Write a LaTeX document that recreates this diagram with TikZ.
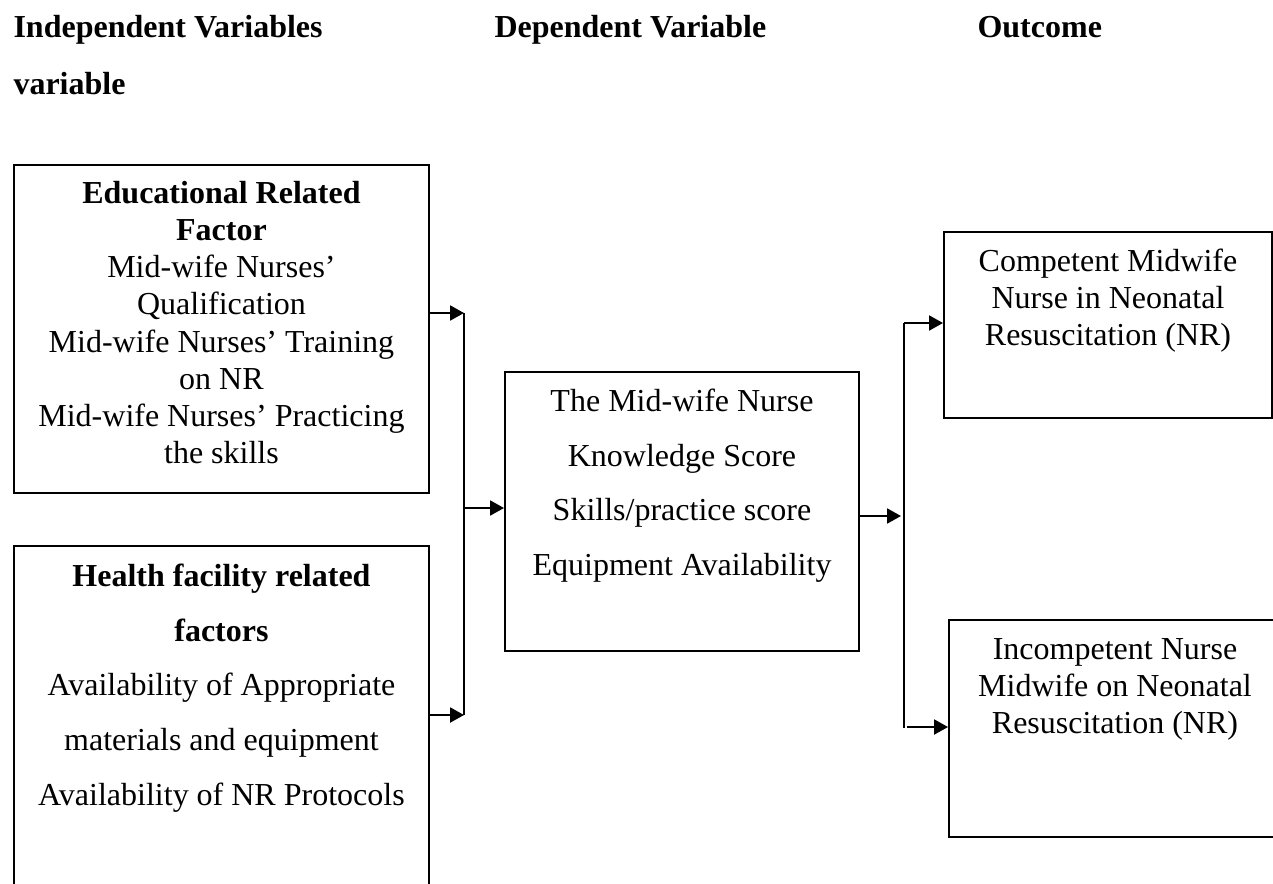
\documentclass[tikz,border=0pt]{standalone}
\usepackage{fontspec}
\setmainfont{Liberation Serif}
\usetikzlibrary{arrows.meta}
\begin{document}
\begin{tikzpicture}[x=0.375pt,y=-0.375pt,
 box/.style={draw, line width=0.75pt, inner sep=0, anchor=north west},
 txt/.style={inner sep=0, align=center, anchor=north, font=\fontsize{12}{13.9}\selectfont},
 txtw/.style={inner sep=0, align=center, anchor=north, font=\fontsize{12}{20.6}\selectfont},
 head/.style={inner sep=0, anchor=base west, font=\fontsize{12}{14}\selectfont\bfseries},
 arr/.style={line width=0.75pt, -{Triangle[length=5.2pt,width=5.6pt]}},
 ln/.style={line width=0.75pt}]
\useasboundingbox (0,0) rectangle (1273,883);
\clip (0,0) rectangle (1273,883);

% headings
\node[head] (h1) at (13,37) {Independent Variables};
\node[head] (h1b) at (13,94) {variable};
\node[head] (h2) at (494,37) {Dependent Variable};
\node[head] (h3) at (977,37) {Outcome};

% boxes
\node[box, minimum width=155.6pt, minimum height=123pt] (b1) at (13,164) {};
\node[box, minimum width=155.6pt, minimum height=152pt] (b2) at (13,545) {};
\node[box, minimum width=132.75pt, minimum height=104.6pt] (mid) at (504,371) {};
\node[box, minimum width=123pt, minimum height=69.75pt] (b3) at (943,231) {};
\node[box, minimum width=124.5pt, minimum height=81.4pt] (b4) at (948,619) {};

% texts
\node[txt] (t1) at (b1.north |- 0,181) {\textbf{Educational Related}\\\textbf{Factor}\\Mid-wife Nurses’\\Qualification\\Mid-wife Nurses’ Training\\on NR\\Mid-wife Nurses’ Practicing\\the skills};
\node[txtw] (t2) at (b2.north |- 0,563) {\textbf{Health facility related}\\\textbf{factors}\\Availability of Appropriate\\materials and equipment\\Availability of NR Protocols};
\node[txtw] (tm) at (mid.north |- 0,388) {The Mid-wife Nurse\\Knowledge Score\\Skills/practice score\\Equipment Availability};
\node[txt] (t3) at (b3.north |- 0,248) {Competent Midwife\\Nurse in Neonatal\\Resuscitation (NR)};
\node[txt] (t4) at (b4.north |- 0,638) {Incompetent Nurse\\Midwife on Neonatal\\Resuscitation (NR)};

% left connectors
\coordinate (j1) at (464,313);
\coordinate (j2) at (464,715);
\coordinate (jm) at (464,508);
\draw[arr] (b1.east |- j1) -- (j1);
\draw[ln] (j1) -- (j2);
\draw[arr] (b2.east |- j2) -- (j2);
\draw[arr] (jm) -- (mid.west |- jm);

% right connectors
\coordinate (k) at (901,516);
\coordinate (k1) at (904,323);
\coordinate (k2) at (904,728);
\coordinate (k3) at (907,727);
\draw[arr] (mid.east |- k) -- (k);
\draw[ln] (k1) -- (k2);
\draw[arr] (k1) -- (b3.west |- k1);
\draw[arr] (k3) -- (b4.west |- k3);
\end{tikzpicture}
\end{document}
